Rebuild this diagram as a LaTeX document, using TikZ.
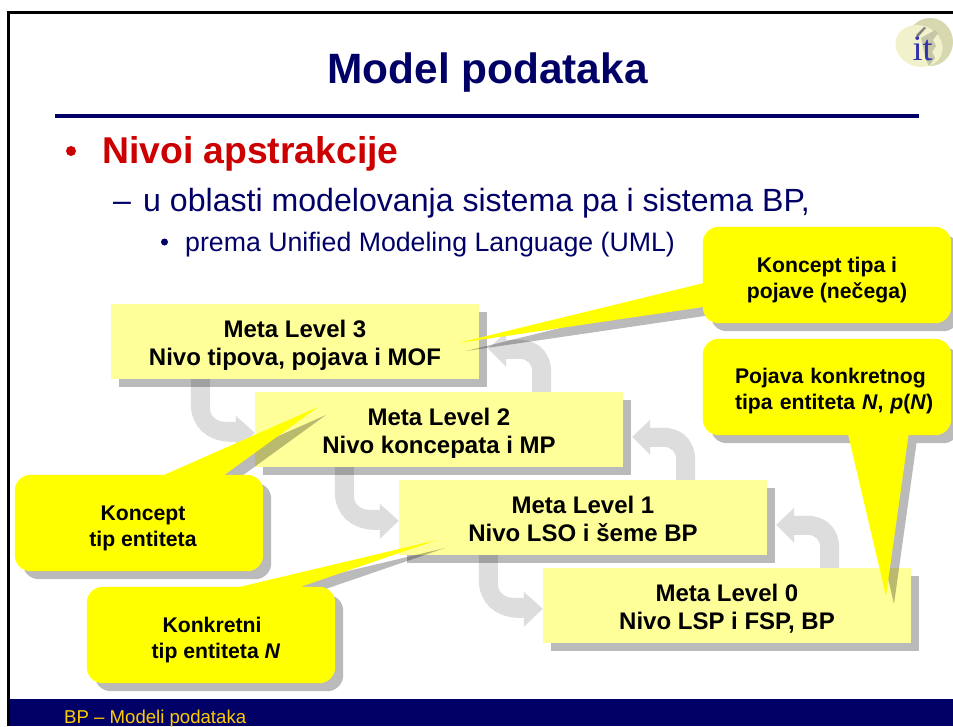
\documentclass[tikz,border=0pt]{standalone}
\usepackage{fontspec}
\setmainfont{Liberation Sans}
\newfontfamily\logofont{Liberation Serif}
\usetikzlibrary{shadows}
\definecolor{navy}{HTML}{000066}
\definecolor{redhead}{HTML}{CC0000}
\definecolor{boxfill}{HTML}{FFFF99}
\definecolor{callfill}{HTML}{FFFF00}
\definecolor{bendgray}{HTML}{DDDDDD}
\definecolor{footertext}{HTML}{FFCC00}
\definecolor{logofront}{HTML}{F1F1CB}
\definecolor{logoback}{HTML}{D8D8B0}
\definecolor{logobar}{HTML}{C6C6A8}
\definecolor{logoink}{HTML}{3333AA}
\pgfdeclarelayer{bends}
\pgfdeclarelayer{callshape}
\pgfdeclarelayer{calltext}
\pgfsetlayers{bends,main,callshape,calltext}
\newcommand{\fs}[2]{\fontsize{#1}{#2}\selectfont}
\tikzset{
  x=1pt,y=-1pt,
  level/.style={minimum width=368pt,minimum height=75pt,inner sep=0pt,fill=boxfill,align=center,
    font=\fs{24}{28}\bfseries,text height=52pt,text depth=5pt,
    drop shadow={shadow xshift=8pt,shadow yshift=-8pt,fill=black,opacity=.27}},
  callbody/.style={minimum width=248pt,minimum height=96pt,inner sep=0pt,align=center,
    font=\fs{21.2}{26}\bfseries,text height=51pt,text depth=5pt},
  slidetext/.style={anchor=base west,inner sep=0pt},
  pics/bendright/.style={code={
    \fill[bendgray] (-64,-13) -- (-45,-13) -- (-45,16) .. controls (-45,25) and (-38,30) .. (-29,30)
      -- (-19,30) -- (-19,24) -- (0,41) -- (-19,59) -- (-19,50) -- (-24,50)
      .. controls (-46,50) and (-64,36) .. (-64,12) -- cycle;}},
  pics/bendleft/.style={code={
    \fill[bendgray] (-91,2) -- (-91,-20) .. controls (-91,-28) and (-96,-33) .. (-104,-33)
      -- (-117,-33) -- (-117,-25) -- (-135,-43) -- (-117,-60) -- (-117,-52) -- (-104,-52)
      .. controls (-84,-52) and (-72,-38) .. (-72,-20) -- (-72,2) -- cycle;}},
}
% #1 body node, #2 triangle path (clockwise on screen)
\newcommand{\callpath}[2]{[rounded corners=16pt] (#1.north west) -- (#1.north east) -- (#1.south east) -- (#1.south west) -- cycle [sharp corners] #2}
\newcommand{\calloutshape}[2]{%
  \begin{pgfonlayer}{callshape}
    \fill[black,opacity=.27,transform canvas={shift={(8pt,-8pt)}}] \callpath{#1}{#2};
    \fill[callfill] \callpath{#1}{#2};
  \end{pgfonlayer}}
\begin{document}
\begin{tikzpicture}
\useasboundingbox (0,0) rectangle (953,726);
\begin{pgfonlayer}{bends}
\fill[white] (0,0) rectangle (953,726);
\end{pgfonlayer}
% slide frame and footer
\fill[black] (7,11) rectangle (953,14);
\fill[black] (7,11) rectangle (10,726);
\fill[navy] (10,699) rectangle (953,726);
\node[slidetext,text=footertext,font=\fs{18.6}{20}] (footer) at (64,723) {BP – Modeli podataka};
% logo
\fill[logoback] (930,42) ellipse (23 and 24);
\fill[logofront,rotate around={-20:(919,46)}] (919,46) ellipse (24 and 20.5);
\fill[logobar] (921,38) -- (935,30) -- (938,33) -- (933,40) -- (936,46) -- (932,52) -- (935,58) -- (929,66) -- (926,60) -- cycle;
\fill[gray] (916,35) -- (924,27) -- (926,28) -- (918,37) -- cycle;
\node[inner sep=0pt,text=logoink,font=\logofont\fs{36}{36}] (logo) at (922.5,49) {it};
% title
\node[anchor=base,inner sep=0pt,text=navy,font=\fs{42.4}{46}\bfseries] (title) at (487.5,83) {Model podataka};
\fill[navy] (55,114) rectangle (919,118);
% bullets
\node[circle,fill=redhead,minimum size=10pt,inner sep=0pt] (b1) at (71,151) {};
\node[slidetext,text=redhead,font=\fs{37.3}{40}\bfseries] (t1) at (102,163) {Nivoi apstrakcije};
\node[slidetext,text=navy,font=\fs{32.1}{36}] (d2) at (113,211) {–};
\node[slidetext,text=navy,font=\fs{32.1}{36}] (t2) at (143,211) {u oblasti modelovanja sistema pa i sistema BP,};
\node[circle,fill=navy,minimum size=7pt,inner sep=0pt] (b3) at (164.5,242) {};
\node[slidetext,text=navy,font=\fs{26.7}{28}] (t3) at (185,251) {prema Unified Modeling Language (UML)};
% levels
\node[level] (ml3) at (295,341.5) {Meta Level 3\\Nivo tipova, pojava i MOF};
\node[level] (ml2) at (439,429.5) {Meta Level 2\\Nivo koncepata i MP};
\node[level] (ml1) at (583,517.5) {Meta Level 1\\Nivo LSO i šeme BP};
\node[level] (ml0) at (727,605.5) {Meta Level 0\\Nivo LSP i FSP, BP};
% bent arrows
\begin{pgfonlayer}{bends}
  \pic at (ml2.north west) {bendright};
  \pic at (ml1.north west) {bendright};
  \pic at (ml0.north west) {bendright};
  \pic at (ml2.north east) {bendleft};
  \pic at (ml1.north east) {bendleft};
  \pic at (ml0.north east) {bendleft};
\end{pgfonlayer}
% callouts
\begin{pgfonlayer}{calltext}
  \node[callbody] (ca) at (827,275) {Koncept tipa i\\pojave (nečega)};
  \node[callbody,align=left,text width=248pt,text height=0pt,text depth=8pt] (cb) at (827,387) {\hspace*{32pt}Pojava konkretnog\\\hspace*{32pt}tipa entiteta \textit{N}, \textit{p}(\textit{N})};
  \node[callbody] (cc) at (139,523) {\hspace*{8pt}Koncept\\\hspace*{8pt}tip entiteta};
  \node[callbody] (cd) at (211,635) {\hspace*{2pt}Konkretni\\\hspace*{10pt}tip entiteta \textit{N}};
\end{pgfonlayer}
\coordinate (tipa) at (458,343);
\coordinate (tipb) at (886,596);
\coordinate (tipc) at (318,407);
\coordinate (tipd) at (437,540);
\calloutshape{ca}{([xshift=2pt,yshift=-80pt]ca.north west) -- (tipa) -- ([xshift=2pt,yshift=-56pt]ca.north west) -- cycle}
\calloutshape{cb}{([xshift=145pt,yshift=2pt]cb.south west) -- ([xshift=206pt,yshift=2pt]cb.south west) -- (tipb) -- cycle}
\calloutshape{cc}{([xshift=145pt,yshift=-2pt]cc.north west) -- (tipc) -- ([xshift=207pt,yshift=-2pt]cc.north west) -- cycle}
\calloutshape{cd}{([xshift=145pt,yshift=-2pt]cd.north west) -- (tipd) -- ([xshift=208pt,yshift=-2pt]cd.north west) -- cycle}
\end{tikzpicture}
\end{document}
